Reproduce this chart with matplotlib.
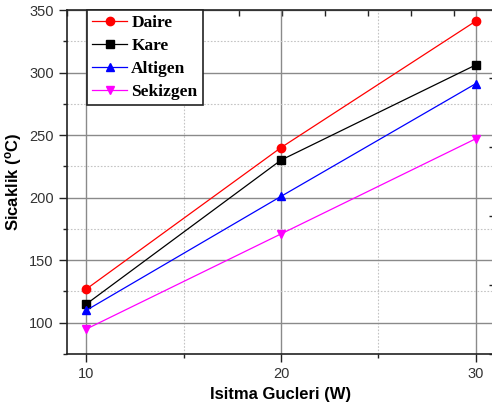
import matplotlib
matplotlib.use("Agg")
import matplotlib.pyplot as plt
import numpy as np
from matplotlib.ticker import MultipleLocator

plt.rcParams["font.family"] = ["Liberation Sans", "DejaVu Sans"]

power = [10, 20, 30]
daire = [127, 240, 341]
kare = [115, 230, 306]
altigen = [110, 201, 291]
sekizgen = [95, 171, 247]

series = [
    ("Daire", daire, "red", "o"),
    ("Kare", kare, "black", "s"),
    ("Altigen", altigen, "blue", "^"),
    ("Sekizgen", sekizgen, "magenta", "v"),
]

W, H = 492, 405
fig = plt.figure(figsize=(W / 100, H / 100), dpi=100, facecolor="white")
left, right, top, bottom = 67, 495, 10, 354
ax = fig.add_axes([left / W, 1 - bottom / H, (right - left) / W, (bottom - top) / H])

for name, vals, col, mk in series:
    ax.plot(power, vals, color=col, marker=mk, markersize=6, linewidth=0.9, label=name,
            zorder=3)

ax.set_xlim(9, 31)
ax.set_ylim(75, 350)
ax.xaxis.set_major_locator(MultipleLocator(10))
ax.xaxis.set_minor_locator(MultipleLocator(5))
ax.yaxis.set_major_locator(MultipleLocator(50))
ax.yaxis.set_minor_locator(MultipleLocator(25))
ax.set_yticks([100, 150, 200, 250, 300, 350])

ax.grid(which="major", color="#8a8a8a", linewidth=1.0, linestyle="-", zorder=0)
ax.grid(which="minor", color="#c4c4c4", linewidth=0.8, linestyle=(0, (1.5, 1.5)), zorder=0)
ax.set_axisbelow(True)

ax.tick_params(which="major", direction="out", length=6, width=1, color="#222222",
               labelsize=10.5, labelcolor="#333333", top=False, right=False)
ax.tick_params(which="minor", direction="out", length=3, width=1, color="#222222",
               top=False, right=False)
for s in ["left", "bottom", "top", "right"]:
    ax.spines[s].set_linewidth(1.2)
    ax.spines[s].set_color("#222222")

ax.set_xlabel("Isitma Gucleri (W)", fontsize=12, fontweight="bold", labelpad=4)
ax.set_ylabel("Sicaklik ($\\mathregular{^{o}}$C)", fontsize=12, fontweight="bold",
              labelpad=4)

# secondary tick marks on top and right edges
axt = ax.twiny()
axt.set_xlim(left, right)
axt.set_xticks(np.arange(left, right, 43))
axt.tick_params(axis="x", direction="in", length=4, width=1, color="#222222",
                labeltop=False, top=True)
axr = ax.twinx()
axr.set_ylim(bottom, top)
axr.set_yticks(np.arange(bottom, top, -69))
axr.tick_params(axis="y", direction="in", length=4, width=1, color="#222222",
                labelright=False, right=True)
for a in (axt, axr):
    for s in a.spines.values():
        s.set_visible(False)

ax.set_zorder(5)
ax.patch.set_visible(False)

leg = ax.legend(loc="upper left", bbox_to_anchor=((87 - left) / (right - left), 1.0),
                prop={"family": "Liberation Serif", "weight": "bold", "size": 12.5},
                frameon=True, fancybox=False, edgecolor="#222222", framealpha=1,
                handlelength=2.0, handletextpad=0.25, labelspacing=0.38,
                borderpad=0.3, borderaxespad=0)
leg.get_frame().set_linewidth(1.2)
leg.set_zorder(10)

fig.savefig("out.png", dpi=100)
